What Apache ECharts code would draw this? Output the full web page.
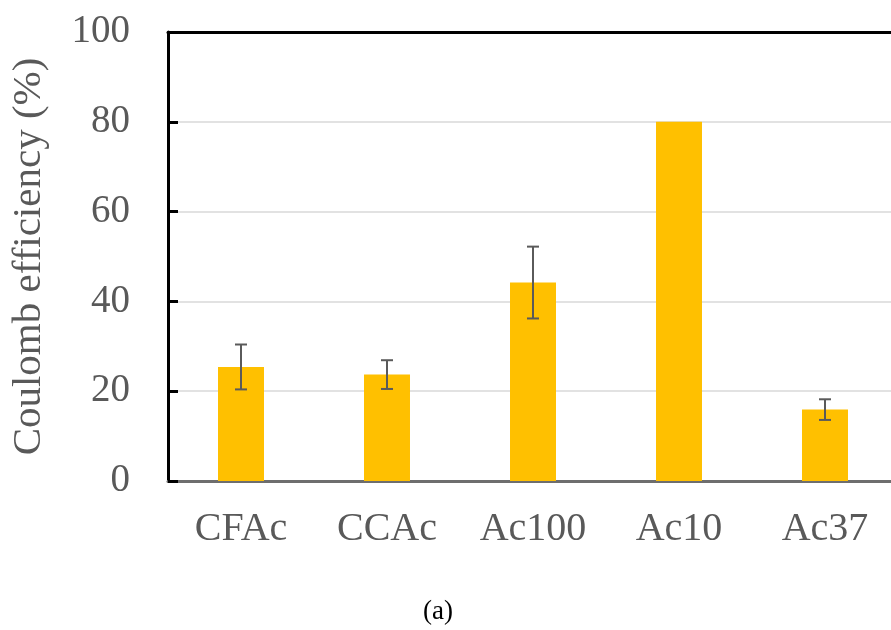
<!DOCTYPE html>
<html>
<head>
<meta charset="utf-8">
<script src="https://cdn.jsdelivr.net/npm/echarts@6/dist/echarts.min.js"></script>
<style>
  html, body { margin: 0; padding: 0; background: #fff; }
  #chart { width: 891px; height: 630px; }
</style>
</head>
<body>
<div id="chart"></div>
<script>
const categories = ["CFAc", "CCAc", "Ac100", "Ac10", "Ac37"];
const efficiency = [25.4, 23.7, 44.2, 80.0, 15.9];
const errors = [5.0, 3.2, 8.0, 0, 2.3];
const yTicks = [0, 20, 40, 60, 80, 100];

const serif = "'Liberation Serif', 'DejaVu Serif', serif";
const grey = "#595959";

const chart = echarts.init(document.getElementById("chart"));

const option = {
  animation: false,
  textStyle: { fontFamily: serif },
  grid: { left: 168, width: 730, top: 32, height: 449, outerBoundsMode: "none" },
  graphic: [
    {
      type: "text",
      left: 423,
      top: 598,
      style: { text: "(a)", font: "27px " + serif, fill: "#000" },
    },
  ],
  xAxis: [
    {
      type: "category",
      data: categories,
      axisLine: { lineStyle: { color: "#6e6e6e", width: 3 } },
      axisTick: { show: false },
      axisLabel: { color: grey, fontSize: 40, fontFamily: serif, margin: 28 },
    },
    {
      type: "category",
      position: "top",
      data: categories,
      axisLine: { lineStyle: { color: "#000", width: 3 } },
      axisTick: { show: false },
      axisLabel: { show: false },
    },
  ],
  yAxis: {
    type: "value",
    min: yTicks[0],
    max: yTicks[yTicks.length - 1],
    interval: 20,
    name: "Coulomb efficiency (%)",
    nameLocation: "middle",
    nameGap: 118,
    nameTextStyle: { color: grey, fontSize: 41, fontFamily: serif },
    axisLine: { show: true, lineStyle: { color: "#000", width: 3 } },
    axisTick: { show: true, inside: true, length: 10, lineStyle: { color: "#000", width: 3 } },
    axisLabel: { color: grey, fontSize: 39, fontFamily: serif, margin: 38, padding: [0, 0, 6, 0] },
    splitLine: { lineStyle: { color: "#d9d9d9", width: 1.5 } },
  },
  series: [
    {
      type: "bar",
      data: efficiency,
      barWidth: "31.5%",
      itemStyle: { color: "#FFC000" },
      z: 2,
    },
    {
      type: "custom",
      z: 3,
      data: efficiency.map((v, i) => [i, v - errors[i], v + errors[i]]),
      renderItem: function (params, api) {
        if (api.value(2) === api.value(1)) return null;
        const lo = api.coord([api.value(0), api.value(1)]);
        const hi = api.coord([api.value(0), api.value(2)]);
        const hw = 6;
        const style = { stroke: "#5a5a5a", lineWidth: 2 };
        return {
          type: "group",
          children: [
            { type: "line", shape: { x1: lo[0], y1: lo[1], x2: hi[0], y2: hi[1] }, style: style },
            { type: "line", shape: { x1: lo[0] - hw, y1: lo[1], x2: lo[0] + hw, y2: lo[1] }, style: style },
            { type: "line", shape: { x1: hi[0] - hw, y1: hi[1], x2: hi[0] + hw, y2: hi[1] }, style: style },
          ],
        };
      },
    },
  ],
};

chart.setOption(option);
</script>
</body>
</html>
